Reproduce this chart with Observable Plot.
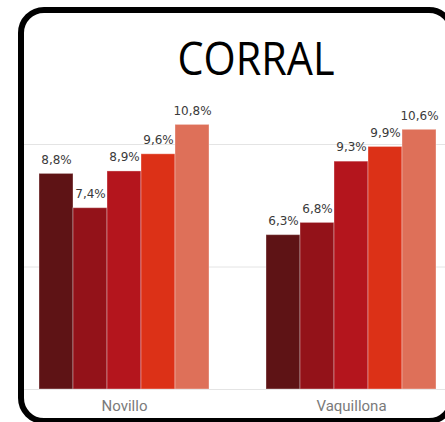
<!DOCTYPE html>
<html>
<head>
<meta charset="utf-8">
<script src="https://cdn.jsdelivr.net/npm/d3@7"></script>
<script src="https://cdn.jsdelivr.net/npm/@observablehq/plot@0.6"></script>
<style>
  html, body { margin: 0; padding: 0; background: #fff; }
  #wrap { position: relative; width: 445px; height: 422px; overflow: hidden; }
  #title { height: 90px; }
  #chartbox { position: relative; width: 445px; height: 332px; }
  #grid, #chart { position: absolute; left: 0; top: 0; }
  #frame { position: absolute; left: 18px; top: 7px; width: 437px; height: 417px; box-sizing: border-box;
           border: 6px solid #000; border-radius: 26px; pointer-events: none; }
</style>
</head>
<body>
<div id="wrap">
  <div id="title">
    <svg width="445" height="90">
      <text x="256" y="75" text-anchor="middle" font-family="'Open Sans', sans-serif" font-size="45"
            textLength="157" lengthAdjust="spacingAndGlyphs" fill="#000">CORRAL</text>
    </svg>
  </div>
  <div id="chartbox">
    <div id="grid"></div>
    <div id="chart"></div>
  </div>
  <div id="frame"></div>
</div>
<script>
const groups = ["Novillo", "Vaquillona"];
const series = ["Serie 1", "Serie 2", "Serie 3", "Serie 4", "Serie 5"];
const novillo = [8.8, 7.4, 8.9, 9.6, 10.8];
const vaquillona = [6.3, 6.8, 9.3, 9.9, 10.6];
const colors = ["#5e1315", "#931219", "#b4151d", "#dc3117", "#de7059"];
const gridTicks = [0, 5, 10];

const valuesByGroup = [novillo, vaquillona];
const data = groups.flatMap((g, i) => series.map((s, j) => ({group: g, series: s, value: valuesByGroup[i][j]})));

const fmt = v => v.toFixed(1).replace(".", ",") + "%";

const common = {
  width: 445,
  height: 332,
  marginLeft: 23,
  marginRight: 0,
  marginTop: 5,
  marginBottom: 33,
  y: {domain: [0, 12], axis: null},
  style: {fontFamily: "Roboto, sans-serif", background: "transparent"}
};

const grid = Plot.plot({
  ...common,
  marks: [Plot.ruleY(gridTicks, {stroke: "#e4e4e4", strokeWidth: 1})]
});
document.getElementById("grid").appendChild(grid);

const chart = Plot.plot({
  ...common,
  fx: {domain: groups, paddingInner: 0.244, paddingOuter: 0.0495, align: 0.622, label: null},
  x: {domain: series, padding: 0, axis: null},
  color: {domain: series, range: colors},
  marks: [
    Plot.barY(data, {fx: "group", x: "series", y: "value", fill: "series", stroke: "#ffffff", strokeOpacity: 0.35, strokeWidth: 1}),
    Plot.text(data, {fx: "group", x: "series", y: "value", text: d => fmt(d.value), dy: -14, fill: "#3a3a3a", fontSize: 12, fontFamily: "'DejaVu Sans', sans-serif"}),
    Plot.axisFx({anchor: "bottom", tickSize: 0, tickPadding: 11, fontSize: 15, fill: "#7a7a7a", label: null})
  ]
});
document.getElementById("chart").appendChild(chart);
</script>
</body>
</html>
